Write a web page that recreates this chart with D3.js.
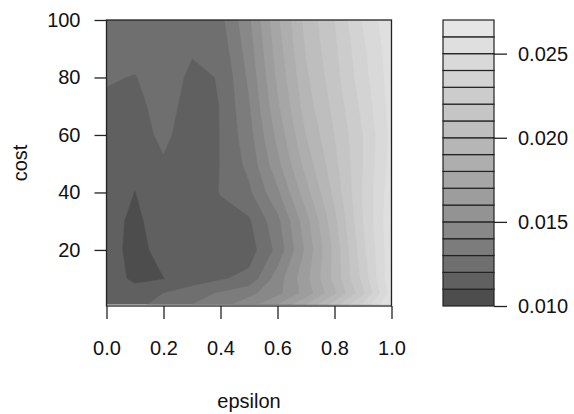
<!DOCTYPE html>
<html>
<head>
<meta charset="utf-8">
<script src="https://cdn.jsdelivr.net/npm/d3@7"></script>
<style>
  body { margin: 0; background: #fff; }
  text { font-family: "Liberation Sans", Arial, sans-serif; fill: #111; }
</style>
</head>
<body>
<div class="chart"></div>
<script>
// grid the surface was computed on
const epsilon = [0.0, 0.1, 0.2, 0.3, 0.4, 0.5, 0.6, 0.7, 0.8, 0.9, 1.0];
const cost = [1, 5, 10, 20, 30, 40, 50, 60, 70, 80, 90, 100];

// z values, one row per cost (bottom row first), one column per epsilon
const z = [
  [0.0117, 0.0117, 0.0124, 0.0130, 0.0136, 0.0146, 0.0160, 0.0180, 0.0205, 0.0232, 0.0262],
  [0.0116, 0.0114, 0.0120, 0.0126, 0.0131, 0.0137, 0.0147, 0.0164, 0.0188, 0.0218, 0.0255],
  [0.0115, 0.0108, 0.01098, 0.0114, 0.0119, 0.0123, 0.0145, 0.0167, 0.0193, 0.0223, 0.0258],
  [0.0115, 0.0106, 0.0114, 0.0112, 0.0116, 0.0115, 0.0133, 0.0162, 0.0193, 0.0227, 0.0257],
  [0.0115, 0.0107, 0.0117, 0.0112, 0.0116, 0.01185, 0.0137, 0.0166, 0.0197, 0.0230, 0.0258],
  [0.0115, 0.01098, 0.0117, 0.0113, 0.01205, 0.0128, 0.0148, 0.0176, 0.0203, 0.0231, 0.0256],
  [0.0115, 0.0114, 0.0119, 0.0114, 0.01202, 0.0133, 0.0157, 0.0184, 0.0207, 0.0230, 0.0254],
  [0.0116, 0.0116, 0.0122, 0.0115, 0.01202, 0.0136, 0.0163, 0.0190, 0.0210, 0.0230, 0.0253],
  [0.0118, 0.0117, 0.0124, 0.0116, 0.01202, 0.0139, 0.0168, 0.0195, 0.0213, 0.0233, 0.0254],
  [0.0121, 0.01195, 0.0125, 0.0118, 0.01205, 0.0142, 0.0172, 0.0198, 0.0216, 0.0236, 0.0255],
  [0.0124, 0.0124, 0.0125, 0.0121, 0.0124, 0.0145, 0.0175, 0.0201, 0.0218, 0.0238, 0.0256],
  [0.0125, 0.0125, 0.0125, 0.0125, 0.0127, 0.0148, 0.0178, 0.0203, 0.0220, 0.0241, 0.0258]
];

const levels = [0.010, 0.011, 0.012, 0.013, 0.014, 0.015, 0.016, 0.017, 0.018,
                0.019, 0.020, 0.021, 0.022, 0.023, 0.024, 0.025, 0.026, 0.027];
const xTicks = [0.0, 0.2, 0.4, 0.6, 0.8, 1.0];
const yTicks = [20, 40, 60, 80, 100];
const legendTicks = [0.010, 0.015, 0.020, 0.025];

const W = 574, H = 414;
const svg = d3.select('.chart').append('svg')
    .attr('width', W)
    .attr('height', H);

const xScale = d3.scaleLinear().domain([0, 1]).range([106.5, 391.5]);
const yScale = d3.scaleLinear().domain([0.5, 100]).range([306, 20]);

// R gray.colors(n, 0.3, 0.9)
const nBands = levels.length - 1;
const colors = d3.range(nBands).map(k => {
    const a = Math.pow(0.3, 2.2), b = Math.pow(0.9, 2.2);
    const v = Math.pow(a + (b - a) * k / (nBands - 1), 1 / 2.2);
    const c = Math.round(v * 255);
    return d3.rgb(c, c, c).formatHex();
});

// contour the grid, then move grid coords into data coords
const nx = epsilon.length, ny = cost.length;
const values = z.flat();
const bands = d3.contours()
    .size([nx, ny])
    .thresholds(levels.slice(0, nBands))(values);

function gridToData(gx, gy) {
    const ix = Math.max(0, Math.min(nx - 1, gx - 0.5));
    const iy = Math.max(0, Math.min(ny - 1, gy - 0.5));
    const i0 = Math.min(Math.floor(ix), nx - 2), j0 = Math.min(Math.floor(iy), ny - 2);
    const e = epsilon[i0] + (epsilon[i0 + 1] - epsilon[i0]) * (ix - i0);
    const c = cost[j0] + (cost[j0 + 1] - cost[j0]) * (iy - j0);
    return [e, c];
}

const path = d3.geoPath(d3.geoTransform({
    point: function(gx, gy) {
        const p = gridToData(gx, gy);
        this.stream.point(xScale(p[0]), yScale(p[1]));
    }
}));

svg.append('defs').append('clipPath').attr('id', 'plotclip')
    .append('rect')
    .attr('x', xScale(0)).attr('y', yScale(100))
    .attr('width', xScale(1) - xScale(0))
    .attr('height', yScale(1) - yScale(100));

svg.append('g')
    .attr('clip-path', 'url(#plotclip)')
    .selectAll('path')
    .data(bands)
    .enter()
    .append('path')
    .attr('d', path)
    .attr('fill', (d, i) => colors[i])
    .attr('stroke', (d, i) => colors[i])
    .attr('stroke-width', 0.3);

// axes
const xAxis = svg.append('g')
    .attr('transform', `translate(0, ${yScale.range()[0]})`)
    .call(d3.axisBottom(xScale).tickValues(xTicks).tickFormat(d3.format('.1f'))
        .tickSize(13).tickSizeOuter(0).tickPadding(22));

const yAxis = svg.append('g')
    .attr('transform', `translate(${xScale.range()[0]}, 0)`)
    .call(d3.axisLeft(yScale).tickValues(yTicks)
        .tickSize(12).tickSizeOuter(0).tickPadding(14));

[xAxis, yAxis].forEach(g => {
    g.select('.domain').remove();
    g.selectAll('line').attr('stroke', '#222').attr('stroke-width', 1.3);
    g.selectAll('text').style('font-size', '20px').attr('fill', '#111');
});

// plot box
svg.append('rect')
    .attr('x', xScale(0)).attr('y', yScale(100))
    .attr('width', xScale(1) - xScale(0))
    .attr('height', yScale.range()[0] - yScale(100))
    .attr('fill', 'none')
    .attr('stroke', '#222')
    .attr('stroke-width', 1.3);

// axis titles
svg.append('text')
    .attr('x', (xScale.range()[0] + xScale.range()[1]) / 2)
    .attr('y', 408)
    .attr('text-anchor', 'middle')
    .style('font-size', '20px')
    .text('epsilon');

svg.append('text')
    .attr('transform', 'translate(27, 163) rotate(-90)')
    .attr('text-anchor', 'middle')
    .style('font-size', '20px')
    .text('cost');

// colour key
const keyScale = d3.scaleLinear().domain([levels[0], levels[nBands]]).range([306, 20]);
const keyX = 443, keyW = 51;

svg.append('g')
    .selectAll('rect')
    .data(d3.range(nBands))
    .enter()
    .append('rect')
    .attr('x', keyX)
    .attr('y', k => keyScale(levels[k + 1]))
    .attr('width', keyW)
    .attr('height', k => keyScale(levels[k]) - keyScale(levels[k + 1]))
    .attr('fill', k => colors[k])
    .attr('stroke', '#222')
    .attr('stroke-width', 1.2);

const keyAxis = svg.append('g')
    .attr('transform', `translate(${keyX + keyW}, 0)`)
    .call(d3.axisRight(keyScale).tickValues(legendTicks).tickFormat(d3.format('.3f'))
        .tickSize(13).tickSizeOuter(0).tickPadding(11));
keyAxis.select('.domain').remove();
keyAxis.selectAll('line').attr('stroke', '#222').attr('stroke-width', 1.3);
keyAxis.selectAll('text').style('font-size', '20px').attr('fill', '#111');
</script>
</body>
</html>
